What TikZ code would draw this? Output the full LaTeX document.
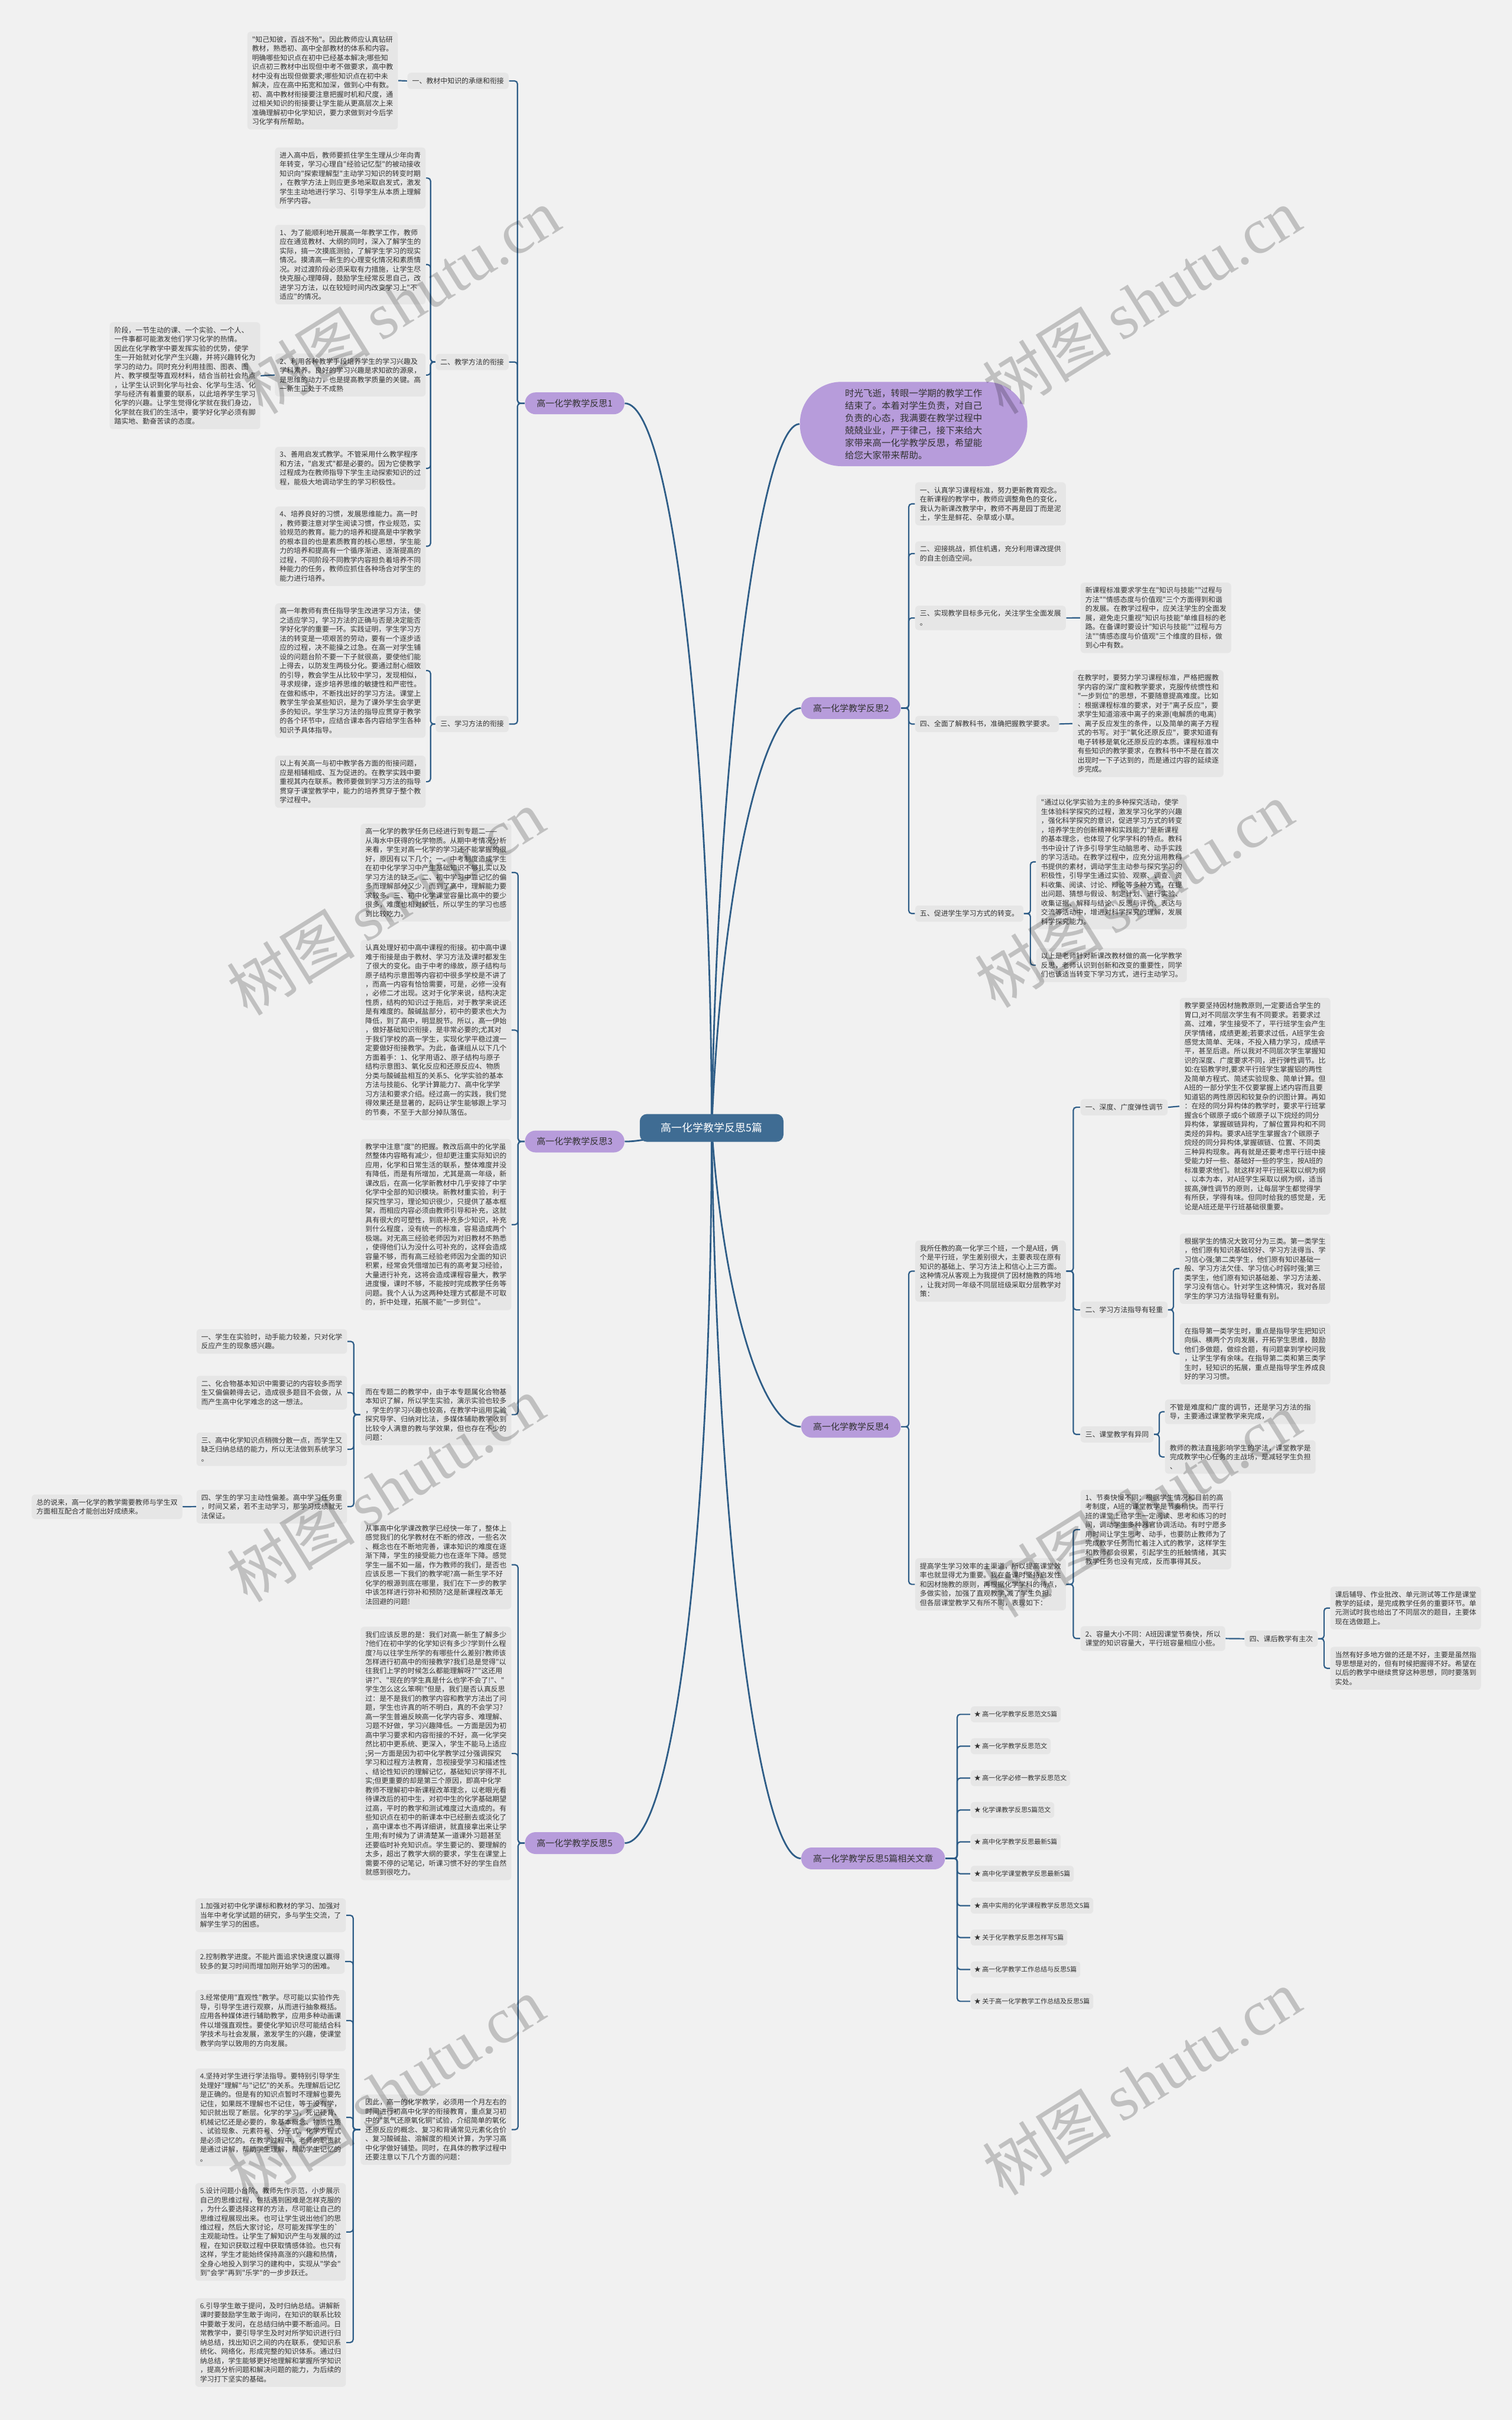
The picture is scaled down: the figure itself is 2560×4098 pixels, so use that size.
\documentclass[tikz,border=0pt]{standalone}
\usepackage{fontspec}
\newfontfamily\cjk{Noto Sans CJK SC}
\newfontfamily\wmserif{Liberation Serif}
\pgfdeclarelayer{bg}
\pgfsetlayers{bg,main}
\definecolor{bgc}{HTML}{F1F1F1}
\definecolor{boxc}{HTML}{E6E6E6}
\definecolor{linec}{HTML}{2E5D87}
\definecolor{purp}{HTML}{B79CDB}
\definecolor{cblue}{HTML}{3F6C93}
\definecolor{txtc}{HTML}{333333}
\begin{document}
\begin{tikzpicture}[x=0.1mm,y=0.1mm,
  txt/.style={fill=boxc, rounded corners=0.6mm, inner xsep=0.8mm, inner ysep=0.75mm, align=left, text=txtc, font=\cjk\fontsize{3.4}{4.41}\selectfont, anchor=north west},
  lab/.style={fill=boxc, rounded corners=0.6mm, inner xsep=0.8mm, inner ysep=0pt, minimum height=2.75mm, text=txtc, font=\cjk\fontsize{3.4}{4.41}\selectfont},
  br/.style={fill=purp, rounded corners=1.8mm, inner xsep=2mm, inner ysep=0pt, minimum height=3.7mm, text=txtc, font=\cjk\fontsize{4.27}{5}\selectfont},
  relitem/.style={fill=boxc, rounded corners=0.6mm, inner xsep=0.6mm, inner ysep=0pt, minimum height=2.7mm, text=txtc, font=\cjk\fontsize{3.13}{4}\selectfont, anchor=west},
  conn/.style={draw=linec, line width=0.22mm, rounded corners=0.5mm},
  mainconn/.style={draw=linec, line width=0.28mm},
  wm/.style={rotate=32, text=black, opacity=0.2, font=\cjk\fontsize{31}{31}\selectfont}
]
\begin{pgfonlayer}{bg}
\fill[bgc] (0,0) rectangle (2560,-4098);
\end{pgfonlayer}
\useasboundingbox (0,0) rectangle (2560,-4098);

% ---------- center and branches ----------
\node[fill=cblue, text=white, rounded corners=1.2mm, minimum height=4.7mm, inner xsep=3.6mm, inner ysep=0pt, font=\cjk\fontsize{5.1}{6}\selectfont] (c) at (1205,-1910) {高一化学教学反思5篇};

\node[fill=purp, rounded corners=7mm, minimum width=38.5mm, minimum height=14.1mm, align=left, text=txtc, font=\cjk\fontsize{4.41}{5.97}\selectfont] (bub) at (1547,-718) {时光飞逝，转眼一学期的教学工作\\结束了。本着对学生负责，对自己\\负责的心态，我满要在教学过程中\\兢兢业业，严于律己，接下来给大\\家带来高一化学教学反思，希望能\\给您大家带来帮助。};

\node[br, anchor=east] (b1) at (1058,-683) {高一化学教学反思1};
\node[br, anchor=west] (b2) at (1356,-1199) {高一化学教学反思2};
\node[br, anchor=east] (b3) at (1058,-1933) {高一化学教学反思3};
\node[br, anchor=west] (b4) at (1356,-2416) {高一化学教学反思4};
\node[br, anchor=east] (b5) at (1058,-3121) {高一化学教学反思5};
\node[br, anchor=west] (rel) at (1356,-3147) {高一化学教学反思5篇相关文章};

% ---------- branch 1 ----------
\node[lab, anchor=east] (n1) at (862,-137) {一、教材中知识的承继和衔接};
\node[lab, anchor=east] (n2) at (862,-613) {二、教学方法的衔接};
\node[lab, anchor=east] (n3) at (862,-1226) {三、学习方法的衔接};

\node[txt] (A1) at (418,-53) {"知己知彼，百战不殆"。因此教师应认真钻研\\教材，熟悉初、高中全部教材的体系和内容。\\明确哪些知识点在初中已经基本解决;哪些知\\识点初三教材中出现但中考不做要求，高中教\\材中没有出现但做要求;哪些知识点在初中未\\解决，应在高中拓宽和加深，做到心中有数。\\初、高中教材衔接要注意把握时机和尺度，通\\过相关知识的衔接要让学生能从更高层次上来\\准确理解初中化学知识，要力求做到对今后学\\习化学有所帮助。};

\node[txt] (A2) at (465,-249) {进入高中后，教师要抓住学生生理从少年向青\\年转变，学习心理自"经验记忆型"的被动接收\\知识向"探索理解型"主动学习知识的转变时期\\，在教学方法上则应更多地采取启发式，激发\\学生主动地进行学习、引导学生从本质上理解\\所学内容。};

\node[txt] (A3) at (465,-380) {1、为了能顺利地开展高一年教学工作，教师\\应在通览教材、大纲的同时，深入了解学生的\\实际，搞一次摸底测验，了解学生学习的现实\\情况。摸清高一新生的心理变化情况和素质情\\况。对过渡阶段必须采取有力措施，让学生尽\\快克服心理障碍，鼓励学生经常反思自己，改\\进学习方法，以在较短时间内改变学习上"不\\适应"的情况。};

\node[txt] (A4) at (465,-598) {2、利用各种教学手段培养学生的学习兴趣及\\学科素养。良好的学习兴趣是求知欲的源泉，\\是思维的动力，也是提高教学质量的关键。高\\一新生正处于不成熟};

\node[txt] (A4p) at (185,-545) {阶段，一节生动的课、一个实验、一个人、\\一件事都可能激发他们学习化学的热情。\\因此在化学教学中要发挥实验的优势，使学\\生一开始就对化学产生兴趣，并将兴趣转化为\\学习的动力。同时充分利用挂图、图表、图\\片、教学模型等直观材料，结合当前社会热点\\，让学生认识到化学与社会、化学与生活、化\\学与经济有着重要的联系，以此培养学生学习\\化学的兴趣。让学生觉得化学就在我们身边，\\化学就在我们的生活中，要学好化学必须有脚\\踏实地、勤奋苦读的态度。};

\node[txt] (A5) at (465,-756) {3、善用启发式教学。不管采用什么教学程序\\和方法，"启发式"都是必要的。因为它使教学\\过程成为在教师指导下学生主动探索知识的过\\程，能极大地调动学生的学习积极性。};

\node[txt] (A6) at (465,-857) {4、培养良好的习惯，发展思维能力。高一时\\，教师要注意对学生阅读习惯，作业规范，实\\验规范的教育。能力的培养和提高是中学教学\\的根本目的也是素质教育的核心思想，学生能\\力的培养和提高有一个循序渐进、逐渐提高的\\过程，不同阶段不同教学内容担负着培养不同\\种能力的任务，教师应抓住各种场合对学生的\\能力进行培养。};

\node[txt] (A7) at (465,-1021) {高一年教师有责任指导学生改进学习方法，使\\之适应学习，学习方法的正确与否是决定能否\\学好化学的重要一环。实践证明，学生学习方\\法的转变是一项艰苦的劳动，要有一个逐步适\\应的过程，决不能操之过急。在高一对学生铺\\设的问题台阶不要一下子就很高，要使他们能\\上得去，以防发生两极分化。要通过耐心细致\\的引导，教会学生从比较中学习，发现相似，\\寻求规律，逐步培养思维的敏捷性和严密性。\\在做和练中，不断找出好的学习方法。课堂上\\教学生学会某些知识，是为了课外学生会学更\\多的知识。学生学习方法的指导应贯穿于教学\\的各个环节中，应结合课本各内容给学生各种\\知识予具体指导。};

\node[txt] (A8) at (465,-1279) {以上有关高一与初中教学各方面的衔接问题，\\应是相辅相成、互为促进的。在教学实践中要\\重视其内在联系。教师要做到学习方法的指导\\贯穿于课堂教学中，能力的培养贯穿于整个教\\学过程中。};

% ---------- branch 2 ----------
\node[txt] (C1) at (1549,-816) {一、认真学习课程标准，努力更新教育观念。\\在新课程的教学中，教师应调整角色的变化，\\我认为新课改教学中，教师不再是园丁而是泥\\土，学生是鲜花、杂草或小草。};
\node[txt] (C2) at (1549,-916) {二、迎接挑战，抓住机遇，充分利用课改提供\\的自主创造空间。};
\node[txt] (C3) at (1549,-1025) {三、实现教学目标多元化，关注学生全面发展\\。};
\node[txt] (C3p) at (1829,-986) {新课程标准要求学生在"知识与技能""过程与\\方法""情感态度与价值观"三个方面得到和谐\\的发展。在教学过程中，应关注学生的全面发\\展，避免走只重视"知识与技能"单维目标的老\\路。在备课时要设计"知识与技能""过程与方\\法""情感态度与价值观"三个维度的目标，做\\到心中有数。};
\node[lab, anchor=west] (C4) at (1549,-1226) {四、全面了解教科书，准确把握教学要求。};
\node[txt] (C4p) at (1816,-1134) {在教学时，要努力学习课程标准，严格把握教\\学内容的深广度和教学要求，克服传统惯性和\\"一步到位"的思想，不要随意提高难度。比如\\：根据课程标准的要求，对于"离子反应"，要\\求学生知道溶液中离子的来源(电解质的电离)\\、离子反应发生的条件，以及简单的离子方程\\式的书写。对于"氧化还原反应"，要求知道有\\电子转移是氧化还原反应的本质。课程标准中\\有些知识的教学要求，在教科书中不是在首次\\出现时一下子达到的，而是通过内容的延续逐\\步完成。};
\node[lab, anchor=west] (C5) at (1549,-1547) {五、促进学生学习方式的转变。};
\node[txt] (C5a) at (1754,-1345) {"通过以化学实验为主的多种探究活动，使学\\生体验科学探究的过程，激发学习化学的兴趣\\，强化科学探究的意识，促进学习方式的转变\\，培养学生的创新精神和实践能力"是新课程\\的基本理念，也体现了化学学科的特点。教科\\书中设计了许多引导学生动脑思考、动手实践\\的学习活动。在教学过程中，应充分运用教科\\书提供的素材，调动学生主动参与探究学习的\\积极性，引导学生通过实验、观察、调查、资\\料收集、阅读、讨论、辩论等多种方式，在提\\出问题、猜想与假设、制定计划、进行实验、\\收集证据、解释与结论、反思与评价、表达与\\交流等活动中，增进对科学探究的理解，发展\\科学探究能力。};
\node[txt] (C5b) at (1754,-1605) {以上是老师针对新课改教材做的高一化学教学\\反思，老师认识到创新和改变的重要性，同学\\们也该适当转变下学习方式，进行主动学习。};

% ---------- branch 3 ----------
\node[txt] (G1) at (610,-1394) {高一化学的教学任务已经进行到专题二——\\从海水中获得的化学物质。从期中考情况分析\\来看，学生对高一化学的学习还不能掌握的很\\好，原因有以下几个：一、中考制度造成学生\\在初中化学学习中产生基础知识不够扎实以及\\学习方法的缺乏。二、初中学习中靠记忆的偏\\多而理解部分又少，而到了高中，理解能力要\\求较多。三、初中化学课堂容量比高中的要少\\很多，难度也相对较低，所以学生的学习也感\\到比较吃力。};
\node[txt] (G2) at (610,-1591) {认真处理好初中高中课程的衔接。初中高中课\\难于衔接是由于教材、学习方法及课时都发生\\了很大的变化。由于中考的缘故，原子结构与\\原子结构示意图等内容初中很多学校是不讲了\\，而高一内容有恰恰需要，可是，必修一没有\\，必修二才出现。这对于化学来说，结构决定\\性质，结构的知识过于拖后，对于教学来说还\\是有难度的。酸碱盐部分，初中的要求也大为\\降低，到了高中，明显脱节。所以，高一伊始\\，做好基础知识衔接，是非常必要的;尤其对\\于我们学校的高一学生，实现化学平稳过渡一\\定要做好衔接教学。为此，备课组从以下几个\\方面着手：1、化学用语2、原子结构与原子\\结构示意图3、氧化反应和还原反应4、物质\\分类与酸碱盐相互的关系5、化学实验的基本\\方法与技能6、化学计算能力7、高中化学学\\习方法和要求介绍。经过高一的实践，我们觉\\得效果还是显著的，起码让学生能够跟上学习\\的节奏，不至于大部分掉队落伍。};
\node[txt] (G3) at (610,-1928) {教学中注意"度"的把握。教改后高中的化学虽\\然整体内容略有减少，但却更注重实际知识的\\应用，化学和日常生活的联系，整体难度并没\\有降低，而是有所增加，尤其是高一年级，新\\课改后，在高一化学新教材中几乎安排了中学\\化学中全部的知识模块。新教材重实验，利于\\探究性学习，理论知识很少，只提供了基本框\\架，而相应内容必须由教师引导和补充，这就\\具有很大的可塑性，到底补充多少知识，补充\\到什么程度，没有统一的标准，容易造成两个\\极端。对无高三经验老师因为对旧教材不熟悉\\，使得他们认为没什么可补充的，这样会造成\\容量不够，而有高三经验老师因为全面的知识\\积累，经常会凭借增加已有的高考复习经验，\\大量进行补充，这将会造成课程容量大，教学\\进度慢，课时不够，不能按时完成教学任务等\\问题。我个人认为这两种处理方式都是不可取\\的，折中处理，拓展不能"一步到位"。};
\node[txt] (G4) at (610,-2343) {而在专题二的教学中，由于本专题属化合物基\\本知识了解，所以学生实验，演示实验也较多\\，学生的学习兴趣也较高，在教学中运用实验\\探究导学、归纳对比法，多媒体辅助教学收到\\比较令人满意的教与学效果，但也存在不少的\\问题：};
\node[txt] (G4a) at (332,-2250) {一、学生在实验时，动手能力较差，只对化学\\反应产生的现象感兴趣。};
\node[txt] (G4b) at (332,-2329) {二、化合物基本知识中需要记的内容较多而学\\生又偏偏赖得去记，造成很多题目不会做，从\\而产生高中化学难念的这一想法。};
\node[txt] (G4c) at (332,-2425) {三、高中化学知识点稍微分散一点，而学生又\\缺乏归纳总结的能力，所以无法做到系统学习\\。};
\node[txt] (G4d) at (332,-2522) {四、学生的学习主动性偏差。高中学习任务重\\，时间又紧，若不主动学习，那学习成绩就无\\法保证。};
\node[txt] (G4dp) at (53,-2530) {总的说来，高一化学的教学需要教师与学生双\\方面相互配合才能创出好成绩来。};

% ---------- branch 4 ----------
\node[txt] (D1) at (1549,-2100) {我所任教的高一化学三个班，一个是A班，俩\\个是平行班，学生差别很大，主要表现在原有\\知识的基础上、学习方法上和信心上三方面。\\这种情况从客观上为我提供了因材施教的阵地\\，让我对同一年级不同层班级采取分层教学对\\策：};
\node[lab, anchor=west] (E1) at (1829,-1875) {一、深度、广度弹性调节};
\node[txt] (E1p) at (1997,-1689) {教学要坚持因材施教原则,一定要适合学生的\\胃口,对不同层次学生有不同要求。若要求过\\高、过难，学生接受不了，平行班学生会产生\\厌学情绪，成绩更差;若要求过低，A班学生会\\感觉太简单、无味，不投入精力学习，成绩平\\平，甚至后退。所以我对不同层次学生掌握知\\识的深度、广度要求不同，进行弹性调节。比\\如:在铝教学时,要求平行班学生掌握铝的两性\\及简单方程式、简述实验现象、简单计算。但\\A班的一部分学生不仅要掌握上述内容而且要\\知道铝的两性原因和较复杂的识图计算。再如\\：在烃的同分异构体的教学时，要求平行班掌\\握含6个碳原子或6个碳原子以下烷烃的同分\\异构体，掌握碳链异构，了解位置异构和不同\\类烃的异构。要求A班学生掌握含7个碳原子\\烷烃的同分异构体,掌握碳链、位置、不同类\\三种异构现象。再有就是还要考虑平行班中接\\受能力好一些、基础好一些的学生，按A班的\\标准要求他们。就这样对平行班采取以纲为纲\\、以本为本，对A班学生采取以纲为纲，适当\\拔高,弹性调节的原则，让每层学生都觉得学\\有所获，学得有味。但同时给我的感觉是，无\\论是A班还是平行班基础很重要。};
\node[lab, anchor=west] (E2) at (1829,-2218) {二、学习方法指导有轻重};
\node[txt] (E2a) at (1997,-2088) {根据学生的情况大致可分为三类。第一类学生\\，他们原有知识基础较好、学习方法得当、学\\习信心强;第二类学生，他们原有知识基础一\\般、学习方法欠佳、学习信心时弱时强;第三\\类学生，他们原有知识基础差、学习方法差、\\学习没有信心。针对学生这种情况，我对各层\\学生的学习方法指导轻重有别。};
\node[txt] (E2b) at (1997,-2240) {在指导第一类学生时，重点是指导学生把知识\\向纵、横两个方向发展，开拓学生思维，鼓励\\他们多做题，做综合题，有问题拿到学校问我\\，让学生学有余味。在指导第二类和第三类学\\生时，轻知识的拓展，重点是指导学生养成良\\好的学习习惯。};
\node[lab, anchor=west] (E3) at (1829,-2429) {三、课堂教学有异同};
\node[txt] (E3a) at (1972,-2369) {不管是难度和广度的调节，还是学习方法的指\\导，主要通过课堂教学来完成，};
\node[txt] (E3b) at (1972,-2438) {教师的教法直接影响学生的学法，课堂教学是\\完成教学中心任务的主战场，是减轻学生负担\\、};
\node[txt] (D2) at (1549,-2638) {提高学生学习效率的主渠道，所以提高课堂效\\率也就显得尤为重要。我在备课时坚持启发性\\和因材施教的原则，再根据化学学科的待点，\\多做实验，加强了直观教学,减了学生负担。\\但各层课堂教学又有所不同，表现如下：};
\node[txt] (F1) at (1829,-2522) {1、节奏快慢不同：根据学生情况和目前的高\\考制度，A班的课堂教学是节奏稍快。而平行\\班的课堂上给学生一定阅读、思考和练习的时\\间，调动学生多种器官协调活动。有时宁愿多\\用时间让学生思考、动手，也要防止教师为了\\完成教学任务而忙着注入式的教学，这样学生\\和教师都会很累，引起学生的抵触情绪，其实\\教学任务也没有完成，反而事得其反。};
\node[txt] (F2) at (1829,-2753) {2、容量大小不同：A班因课堂节奏快，所以\\课堂的知识容量大，平行班容量相应小些。};
\node[lab, anchor=west] (F2a) at (2107,-2775) {四、课后教学有主次};
\node[txt] (F2a1) at (2252,-2686) {课后辅导、作业批改、单元测试等工作是课堂\\教学的延续，是完成教学任务的重要环节。单\\元测试时我也给出了不同层次的题目，主要体\\现在选做题上。};
\node[txt] (F2a2) at (2252,-2788) {当然有好多地方做的还是不好，主要是虽然指\\导思想是对的，但有时候把握得不好。希望在\\以后的教学中继续贯穿这种思想，同时要落到\\实处。};

% ---------- branch 5 ----------
\node[txt] (G5) at (610,-2574) {从事高中化学课改教学已经快一年了，整体上\\感觉我们的化学教材在不断的修改，一些名次\\、概念也在不断地完善，课本知识的难度在逐\\渐下降，学生的接受能力也在逐年下降。感觉\\学生一届不如一届，作为教师的我们，是否也\\应该反思一下我们的教学呢?高一新生学不好\\化学的根源到底在哪里，我们在下一步的教学\\中该怎样进行弥补和预防?这是新课程改革无\\法回避的问题!};
\node[txt] (G6) at (610,-2754) {我们应该反思的是：我们对高一新生了解多少\\?他们在初中学的化学知识有多少?学到什么程\\度?与以往学生所学的有哪些什么差别?教师该\\怎样进行初高中的衔接教学?我们总是觉得"以\\往我们上学的时候怎么都能理解呀?""这还用\\讲?"、"现在的学生真是什么也学不会了!"、"\\学生怎么这么笨啊!"但是，我们是否认真反思\\过：是不是我们的教学内容和教学方法出了问\\题，学生也许真的听不明白，真的不会学习?\\高一学生普遍反映高一化学内容多、难理解、\\习题不好做，学习兴趣降低。一方面是因为初\\高中学习要求和内容衔接的不好，高一化学突\\然比初中更系统、更深入，学生不能马上适应\\;另一方面是因为初中化学教学过分强调探究\\学习和过程方法教育，忽视接受学习和描述性\\、结论性知识的理解记忆，基础知识学得不扎\\实;但更重要的却是第三个原因，即高中化学\\教师不理解初中新课程改革理念，以老眼光看\\待课改后的初中生，对初中生的化学基础期望\\过高，平时的教学和测试难度过大造成的。有\\些知识点在初中的新课本中已经删去或淡化了\\，高中课本也不再详细讲，就直接拿出来让学\\生用;有时候为了讲清楚某一道课外习题甚至\\还要临时补充知识点。学生要记的、要理解的\\太多，超出了教学大纲的要求，学生在课堂上\\需要不停的记笔记，听课习惯不好的学生自然\\就感到很吃力。};
\node[txt] (H0) at (610,-3546) {因此，高一的化学教学，必须用一个月左右的\\时间进行初高中化学的衔接教育，重点复习初\\中的"氢气还原氧化铜"试验，介绍简单的氧化\\还原反应的概念、复习和背诵常见元素化合价\\、复习酸碱盐、溶解度的相关计算，为学习高\\中化学做好铺垫。同时，在具体的教学过程中\\还要注意以下几个方面的问题：};
\node[txt] (H1) at (330,-3214) {1.加强对初中化学课标和教材的学习、加强对\\当年中考化学试题的研究，多与学生交流，了\\解学生学习的困惑。};
\node[txt] (H2) at (330,-3300) {2.控制教学进度。不能片面追求快速度以赢得\\较多的复习时间而增加刚开始学习的困难。};
\node[txt] (H3) at (330,-3369) {3.经常使用"直观性"教学。尽可能以实验作先\\导，引导学生进行观察，从而进行抽象概括。\\应用各种媒体进行辅助教学，应用多种动画课\\件以增强直观性。要使化学知识尽可能结合科\\学技术与社会发展，激发学生的兴趣，使课堂\\教学向学以致用的方向发展。};
\node[txt] (H4) at (330,-3502) {4.坚持对学生进行学法指导。要特别引导学生\\处理好"理解"与"记忆"的关系。先理解后记忆\\是正确的。但是有的知识点暂时不理解也要先\\记住，如果既不理解也不记住，等于没有学，\\知识就出现了断层。化学的学习，死记硬背、\\机械记忆还是必要的，象基本概念、物质性质\\、试验现象、元素符号、分子式、化学方程式\\是必须记忆的。在教学过程中，老师的职责就\\是通过讲解，帮助学生理解，帮助学生记忆的\\。};
\node[txt] (H5) at (330,-3696) {5.设计问题小台阶。教师先作示范，小步展示\\自己的思维过程，包括遇到困难是怎样克服的\\，为什么要选择这样的方法，尽可能让自己的\\思维过程展现出来。也可让学生说出他们的思\\维过程，然后大家讨论，尽可能发挥学生的`\\主观能动性。让学生了解知识产生与发展的过\\程，在知识获取过程中获取情感体验。也只有\\这样，学生才能始终保持高涨的兴趣和热情，\\全身心地投入到学习的建构中，实现从"学会"\\到"会学"再到"乐学"的一步步跃迁。};
\node[txt] (H6) at (330,-3891) {6.引导学生敢于提问，及时归纳总结。讲解新\\课时要鼓励学生敢于询问，在知识的联系比较\\中要敢于发问，在总结归纳中要不断追问。日\\常教学中，要引导学生及时对所学知识进行归\\纳总结，找出知识之间的内在联系，使知识系\\统化、网络化，形成完整的知识体系。通过归\\纳总结，学生能够更好地理解和掌握所学知识\\，提高分析问题和解决问题的能力，为后续的\\学习打下坚实的基础。};

% ---------- related articles ----------
\node[relitem] (R1) at (1643,-2903) {★ 高一化学教学反思范文5篇};
\node[relitem] (R2) at (1643,-2957) {★ 高一化学教学反思范文};
\node[relitem] (R3) at (1643,-3011) {★ 高一化学必修一教学反思范文};
\node[relitem] (R4) at (1643,-3065) {★ 化学课教学反思5篇范文};
\node[relitem] (R5) at (1643,-3119) {★ 高中化学教学反思最新5篇};
\node[relitem] (R6) at (1643,-3173) {★ 高中化学课堂教学反思最新5篇};
\node[relitem] (R7) at (1643,-3227) {★ 高中实用的化学课程教学反思范文5篇};
\node[relitem] (R8) at (1643,-3281) {★ 关于化学教学反思怎样写5篇};
\node[relitem] (R9) at (1643,-3335) {★ 高一化学教学工作总结与反思5篇};
\node[relitem] (R10) at (1643,-3389) {★ 关于高一化学教学工作总结及反思5篇};

% ---------- connectors ----------
\begin{pgfonlayer}{bg}
\draw[mainconn] (c.center) .. controls (1205,-1300) and (1140,-683) .. (b1.east);
\draw[mainconn] (c.center) .. controls (1215,-1250) and (1290,-718) .. (bub.west);
\draw[mainconn] (c.center) .. controls (1225,-1450) and (1300,-1199) .. (b2.west);
\draw[mainconn] (c.center) .. controls (1140,-1915) and (1100,-1933) .. (b3.east);
\draw[mainconn] (c.center) .. controls (1225,-2200) and (1290,-2416) .. (b4.west);
\draw[mainconn] (c.center) .. controls (1205,-2600) and (1140,-3121) .. (b5.east);
\draw[mainconn] (c.center) .. controls (1215,-2650) and (1290,-3147) .. (rel.west);

% branch 1
\foreach \k in {n1,n2,n3} \draw[conn] (b1.west) -- ++(-12,0) |- (\k.east);
\draw[conn] (n1.west) -- (A1.east);
\foreach \k in {A2,A3,A4,A5,A6} \draw[conn] (n2.west) -- ++(-8,0) |- (\k.east);
\foreach \k in {A7,A8} \draw[conn] (n3.west) -- ++(-8,0) |- (\k.east);
\draw[conn] (A4.west) -- (A4p.east);

% branch 2
\foreach \k in {C1,C2,C3,C4,C5} \draw[conn] (b2.east) -- ++(13,0) |- (\k.west);
\draw[conn] (C3.east) -- (C3p.west);
\draw[conn] (C4.east) -- (C4p.west);
\foreach \k in {C5a,C5b} \draw[conn] (C5.east) -- ++(11,0) |- (\k.west);

% branch 3
\foreach \k in {G1,G2,G3,G4} \draw[conn] (b3.west) -- ++(-11,0) |- (\k.east);
\foreach \k in {G4a,G4b,G4c,G4d} \draw[conn] (G4.west) -- ++(-11,0) |- (\k.east);
\draw[conn] (G4d.west) -- (G4dp.east);

% branch 4
\foreach \k in {D1,D2} \draw[conn] (b4.east) -- ++(13,0) |- (\k.west);
\foreach \k in {E1,E2,E3} \draw[conn] (D1.east) -- ++(12,0) |- (\k.west);
\draw[conn] (E1.east) -- (E1p.west);
\foreach \k in {E2a,E2b} \draw[conn] (E2.east) -- ++(9,0) |- (\k.west);
\foreach \k in {E3a,E3b} \draw[conn] (E3.east) -- ++(9,0) |- (\k.west);
\foreach \k in {F1,F2} \draw[conn] (D2.east) -- ++(12,0) |- (\k.west);
\draw[conn] (F2.east) -- (F2a.west);
\foreach \k in {F2a1,F2a2} \draw[conn] (F2a.east) -- ++(10,0) |- (\k.west);

% branch 5
\foreach \k in {G5,G6,H0} \draw[conn] (b5.west) -- ++(-11,0) |- (\k.east);
\foreach \k in {H1,H2,H3,H4,H5,H6} \draw[conn] (H0.west) -- ++(-12,0) |- (\k.east);

% related
\foreach \k in {R1,R2,R3,R4,R5,R6,R7,R8,R9,R10} \draw[conn] (rel.east) -- ++(20,0) |- (\k.west);
\end{pgfonlayer}

% ---------- watermarks ----------
\node[wm] (w1) at (679,-509) {树图\,{\wmserif shutu.cn}};
\node[wm] (w2) at (1933,-509) {树图\,{\wmserif shutu.cn}};
\node[wm] (w3) at (653,-1528) {树图\,{\wmserif shutu.cn}};
\node[wm] (w4) at (1920,-1515) {树图\,{\wmserif shutu.cn}};
\node[wm] (w5) at (653,-2521) {树图\,{\wmserif shutu.cn}};
\node[wm] (w6) at (1933,-2547) {树图\,{\wmserif shutu.cn}};
\node[wm] (w7) at (653,-3539) {树图\,{\wmserif shutu.cn}};
\node[wm] (w8) at (1933,-3526) {树图\,{\wmserif shutu.cn}};
\end{tikzpicture}
\end{document}
